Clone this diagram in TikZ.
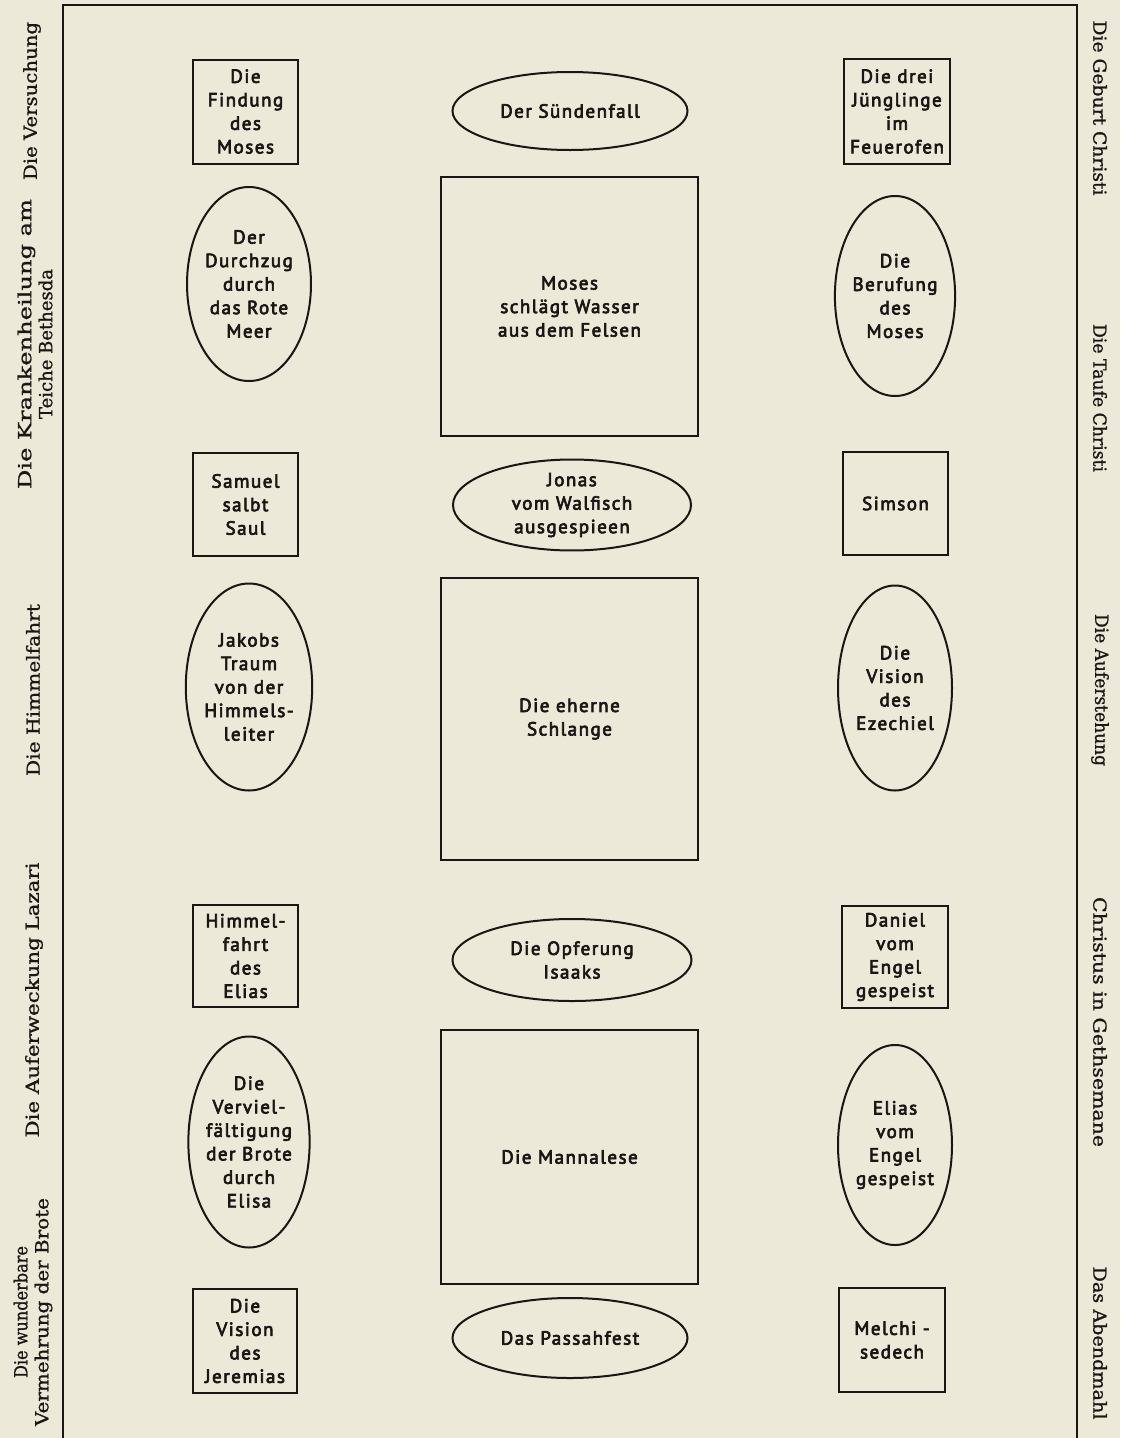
\documentclass[tikz,border=0pt]{standalone}
\usepackage{fontspec}
\usepackage{graphicx}
\setmainfont{PT Sans}[LetterSpace=8,FakeBold=3.5]
\newfontfamily\sidefont{DejaVu Serif}[FakeBold=1]
\usetikzlibrary{shapes.geometric}
\definecolor{paper}{RGB}{236,233,216}
\definecolor{ink}{RGB}{25,22,20}
\tikzset{
  lbl/.style={font=\fontsize{19}{23.5}\selectfont, text=ink, align=center, inner sep=0pt},
  boxnode/.style={lbl, draw=ink, line width=2pt, rectangle},
  ovalnode/.style={lbl, draw=ink, line width=2pt, ellipse},
  sidelbl/.style={font=\sidefont\fontsize{18}{21}\selectfont, text=ink, align=center, inner sep=0pt},
}
\newcommand{\bx}[5]{\node[boxnode, minimum width=#3pt, minimum height=#4pt] (#1) at #2 {#5};}
\newcommand{\ov}[5]{\node[ovalnode, minimum width=#3pt, minimum height=#4pt] (#1) at #2 {#5};}
\newlength{\swlen}
\newcommand{\sw}[2]{\settowidth{\swlen}{#2}\scalebox{\fpeval{#1/(\the\swlen)}}[1]{#2}}
\begin{document}
\begin{tikzpicture}[x=1pt,y=-1pt]
\fill[paper] (0,0) rectangle (1120,1438);
\useasboundingbox (0,0) rectangle (1120,1438);
% frame
\coordinate (fbl) at (63,1438);
\coordinate (ftl) at (63,5);
\coordinate (ftr) at (1077,5);
\coordinate (fbr) at (1077,1438);
\draw[ink, line width=2.6pt] (fbl) -- (ftl) -- (ftr) -- (fbr);
% row 1
\bx{L1}{(245.5,111.5)}{105}{104}{Die\\Findung\\des\\Moses}
\ov{C1}{(570,111)}{235}{78}{Der Sündenfall}
\bx{R1}{(897,111.5)}{106}{105}{Die drei\\Jünglinge\\im\\Feuerofen}
% row 2
\ov{L2}{(249,284)}{112}{194}{Der\\Durchzug\\durch\\das Rote\\Meer}
\bx{C2}{(569.5,306.5)}{257}{259}{Moses\\schlägt Wasser\\aus dem Felsen}
\ov{R2}{(895,296)}{114}{200}{Die\\Berufung\\des\\Moses}
% row 3
\bx{L3}{(245.5,504.5)}{105}{103}{Samuel\\salbt\\Saul}
\ov{C3}{(572,505)}{238}{80}{Jonas\\vom Walfisch\\ausgespieen}
\bx{R3}{(895.5,503.5)}{105}{103}{Simson}
% row 4
\ov{L4}{(249,687)}{112}{207}{Jakobs\\Traum\\von der\\Himmels-\\leiter}
\bx{C4}{(569.5,719)}{257}{282}{Die eherne\\Schlange}
\ov{R4}{(895,688)}{114}{205}{Die\\Vision\\des\\Ezechiel}
% row 5
\bx{L5}{(245.5,956)}{105}{102}{Himmel-\\fahrt\\des\\Elias}
\ov{C5}{(572,960)}{239}{82}{Die Opferung\\Isaaks}
\bx{R5}{(895,957)}{106}{102}{Daniel\\vom\\Engel\\gespeist}
% row 6
\ov{L6}{(249,1142)}{112}{211}{Die\\Verviel-\\fältigung\\der Brote\\durch\\Elisa}
\bx{C6}{(569.5,1157)}{257}{254}{Die Mannalese}
\ov{R6}{(895,1145)}{114}{200}{Elias\\vom\\Engel\\gespeist}
% row 7
\bx{L7}{(245,1341)}{104}{104}{Die\\Vision\\des\\Jeremias}
\ov{C7}{(570,1338)}{235}{80}{Das Passahfest}
\bx{R7}{(892,1340)}{106}{104}{Melchi -\\sedech}
% left side labels
\node[sidelbl, rotate=90] (s1) at (32,101) {\sw{158}{Die Versuchung}};
\node[sidelbl, rotate=90] (s2) at (35,344) {\sw{290}{Die Krankenheilung am}\\\sw{150}{Teiche Bethesda}};
\node[sidelbl, rotate=90] (s3) at (33,690) {\sw{172}{Die Himmelfahrt}};
\node[sidelbl, rotate=90] (s4) at (34,1000) {\sw{275}{Die Auferweckung Lazari}};
\node[sidelbl, rotate=90] (s5) at (33,1312) {\sw{132}{Die wunderbare}\\\sw{228}{Vermehrung der Brote}};
% right side labels
\node[sidelbl, rotate=-90] (r1) at (1100,108) {\sw{175}{Die Geburt Christi}};
\node[sidelbl, rotate=-90] (r2) at (1100,398) {\sw{148}{Die Taufe Christi}};
\node[sidelbl, rotate=-90] (r3) at (1100,690) {\sw{152}{Die Auferstehung}};
\node[sidelbl, rotate=-90] (r4) at (1100,1022) {\sw{250}{Christus in Gethsemane}};
\node[sidelbl, rotate=-90] (r5) at (1100,1343) {\sw{153}{Das Abendmahl}};
\end{tikzpicture}
\end{document}
